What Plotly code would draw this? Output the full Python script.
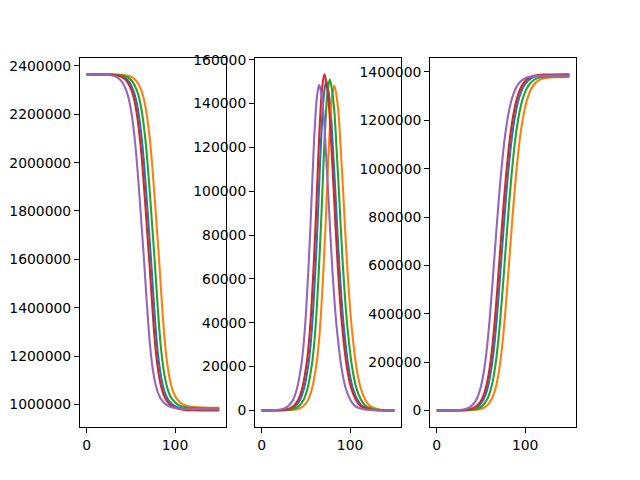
import plotly.graph_objects as go
from plotly.subplots import make_subplots

# ---------------- data ----------------
days_blue = [0, 13, 23, 33, 38, 43, 48, 53, 55.5, 58, 60.5, 63, 65.5, 68, 70.5, 73, 75.5, 78, 80.5, 83, 85.5, 88, 90.5, 93, 98, 103, 108, 113, 123, 133, 150]
S_blue = [2364992, 2364915, 2364588, 2362693, 2359302, 2351617, 2333981, 2297056, 2265830, 2220827, 2158003, 2075947, 1970857, 1849352, 1719511, 1590373, 1449580, 1317815, 1213790, 1140279, 1088960, 1054285, 1030706, 1015449, 996725, 987432, 982716, 980358, 978555, 978139, 978000]
I_blue = [8, 30, 135, 781, 1953, 4506, 10214, 21479, 30791, 44309, 62333, 83361, 108144, 129923, 144643, 150200, 145694, 136682, 120160, 102136, 82610, 64586, 49566, 37550, 20277, 10214, 5107, 2223, 496, 120, 3]
R_blue = [0, 55, 277, 1526, 3745, 8877, 20805, 46465, 68379, 99864, 144664, 205692, 285999, 385725, 500846, 624427, 748564, 866875, 974506, 1067713, 1145246, 1206829, 1254680, 1291297, 1338871, 1363837, 1376320, 1382146, 1386029, 1386792, 1387000]

days_orange = [0, 22, 32, 42, 47, 52, 57, 62, 64.5, 67, 69.5, 72, 74.5, 77, 79.5, 82, 84.5, 87, 89.5, 92, 94.5, 97, 99.5, 102, 107, 112, 117, 122, 132, 142, 150]
S_orange = [2364997, 2364915, 2364591, 2362712, 2359350, 2351728, 2334237, 2297610, 2266634, 2221993, 2159667, 2078243, 1973946, 1853307, 1724325, 1595974, 1454860, 1323855, 1220430, 1147343, 1096320, 1061845, 1038402, 1023233, 1004617, 995377, 990689, 988344, 986552, 986138, 986000]
I_orange = [3, 30, 133, 771, 1927, 4446, 10078, 21193, 30381, 43719, 61503, 82251, 106704, 128193, 142717, 148200, 143754, 134862, 118560, 100776, 81510, 63726, 48906, 37050, 20007, 10078, 5039, 2193, 489, 119, 45]
R_orange = [0, 55, 276, 1517, 3723, 8826, 20685, 46197, 67985, 99288, 143830, 204506, 284350, 383500, 497958, 620826, 744246, 861875, 968885, 1061554, 1138640, 1199868, 1247443, 1283849, 1331148, 1355971, 1368382, 1374174, 1378035, 1378793, 1378950]

days_green = [0, 17, 27, 37, 42, 47, 52, 57, 59.5, 62, 64.5, 67, 69.5, 72, 74.5, 77, 79.5, 82, 84.5, 87, 89.5, 92, 94.5, 97, 102, 107, 112, 117, 127, 137, 150]
S_green = [2364995, 2364915, 2364588, 2362695, 2359307, 2351628, 2334009, 2297124, 2265932, 2220980, 2158233, 2076299, 1971384, 1850137, 1720643, 1591924, 1452880, 1321590, 1217940, 1144694, 1093560, 1059010, 1035516, 1020314, 1001657, 992398, 987699, 985349, 983553, 983138, 983000]
I_green = [5, 30, 136, 785, 1962, 4527, 10261, 21579, 30935, 44516, 62624, 83750, 108648, 130529, 145317, 150900, 146373, 137319, 120720, 102612, 82995, 64887, 49797, 37725, 20372, 10261, 5131, 2233, 498, 121, 15]
R_green = [0, 55, 276, 1520, 3731, 8845, 20730, 46297, 68133, 99504, 144143, 204951, 284968, 384334, 499040, 622176, 745865, 863750, 970993, 1063864, 1141117, 1202478, 1250157, 1286642, 1334045, 1358921, 1371359, 1377163, 1381033, 1381793, 1381990]

days_red = [0, 11, 21, 31, 36, 41, 46, 51, 53.5, 56, 58.5, 61, 63.5, 66, 68.5, 71, 73.5, 76, 78.5, 81, 83.5, 86, 88.5, 91, 96, 101, 106, 111, 121, 131, 150]
S_red = [2364990, 2364913, 2364584, 2362674, 2359254, 2351505, 2333726, 2296513, 2265046, 2219696, 2156403, 2073781, 1968006, 1845836, 1715443, 1585922, 1447600, 1315550, 1211300, 1137630, 1086200, 1051450, 1027820, 1012530, 993765, 984452, 979726, 977363, 975556, 975139, 975000]
I_red = [10, 31, 138, 797, 1993, 4599, 10424, 21922, 31427, 45224, 63620, 85082, 110376, 132605, 147628, 153300, 148701, 139503, 122640, 104244, 84315, 65919, 50589, 38325, 20696, 10424, 5212, 2269, 506, 123, 5]
R_red = [0, 56, 278, 1529, 3753, 8896, 20850, 46565, 68527, 100080, 144977, 206137, 286618, 386559, 501929, 625778, 750183, 868750, 976614, 1070022, 1147723, 1209439, 1257394, 1294090, 1341767, 1366787, 1379297, 1385135, 1389027, 1389792, 1390000]

days_purple = [0, 5, 15, 25, 30, 35, 40, 45, 47.5, 50, 52.5, 55, 57.5, 60, 62.5, 65, 67.5, 70, 72.5, 75, 77.5, 80, 82.5, 85, 90, 95, 100, 105, 115, 125, 150]
S_purple = [2364985, 2364915, 2364589, 2362703, 2359328, 2351678, 2334120, 2297352, 2266256, 2221443, 2158875, 2077131, 1972421, 1851292, 1721774, 1592873, 1450900, 1319325, 1215450, 1142045, 1090800, 1056175, 1032630, 1017395, 998698, 989418, 984709, 982355, 980554, 980139, 980000]
I_purple = [15, 30, 134, 773, 1932, 4458, 10105, 21250, 30463, 43837, 61669, 82473, 106992, 128539, 143102, 148600, 144142, 135226, 118880, 101048, 81730, 63898, 49038, 37150, 20061, 10105, 5052, 2199, 490, 119, 2]
R_purple = [0, 55, 277, 1524, 3740, 8864, 20775, 46398, 68281, 99720, 144456, 205396, 285587, 385169, 500124, 623527, 747485, 865625, 973101, 1066173, 1143595, 1205089, 1252871, 1289435, 1336941, 1361871, 1374336, 1380153, 1384031, 1384792, 1385000]

x_ticks = [0, 100]
S_ticks = [1000000, 1200000, 1400000, 1600000, 1800000, 2000000, 2200000, 2400000]
I_ticks = [0, 20000, 40000, 60000, 80000, 100000, 120000, 140000, 160000]
R_ticks = [0, 200000, 400000, 600000, 800000, 1000000, 1200000, 1400000]

series = [
    (days_blue, S_blue, I_blue, R_blue, "#1f77b4"),
    (days_orange, S_orange, I_orange, R_orange, "#ff7f0e"),
    (days_green, S_green, I_green, R_green, "#2ca02c"),
    (days_red, S_red, I_red, R_red, "#d62728"),
    (days_purple, S_purple, I_purple, R_purple, "#9467bd"),
]

fig = make_subplots(rows=1, cols=3)
for d, s, i, r, c in series:
    for col, vals in enumerate([s, i, r], start=1):
        fig.add_trace(
            go.Scatter(x=d, y=vals, mode="lines",
                       line=dict(color=c, width=2.1, shape="spline", smoothing=1.0),
                       showlegend=False, hoverinfo="skip"),
            row=1, col=col)

axis_common = dict(
    showline=True, mirror=True, linecolor="black", linewidth=1,
    ticks="outside", ticklen=5, tickwidth=1, tickcolor="black",
    showgrid=False, zeroline=False, automargin=False,
    tickfont=dict(family="DejaVu Sans", size=13.9, color="black"),
    tickformat="d",
)

x_domains = [[0.125, 0.3529], [0.3985, 0.6265], [0.6721, 0.9]]
y_ranges = [[905500, 2434500], [-7665, 160965], [-69500, 1459500]]
y_tickvals = [S_ticks, I_ticks, R_ticks]

for k in range(3):
    suffix = "" if k == 0 else str(k + 1)
    fig.layout["xaxis" + suffix].update(
        domain=x_domains[k], range=[-7.5, 157.5], tickvals=x_ticks, **axis_common)
    fig.layout["yaxis" + suffix].update(
        domain=[0.11, 0.88], range=y_ranges[k], tickvals=y_tickvals[k], **axis_common)

fig.update_layout(
    template="none",
    width=640, height=480,
    margin=dict(l=0, r=0, t=0, b=0, pad=0, autoexpand=False),
    paper_bgcolor="white", plot_bgcolor="white",
    showlegend=False,
)

fig.write_html("out.html")
